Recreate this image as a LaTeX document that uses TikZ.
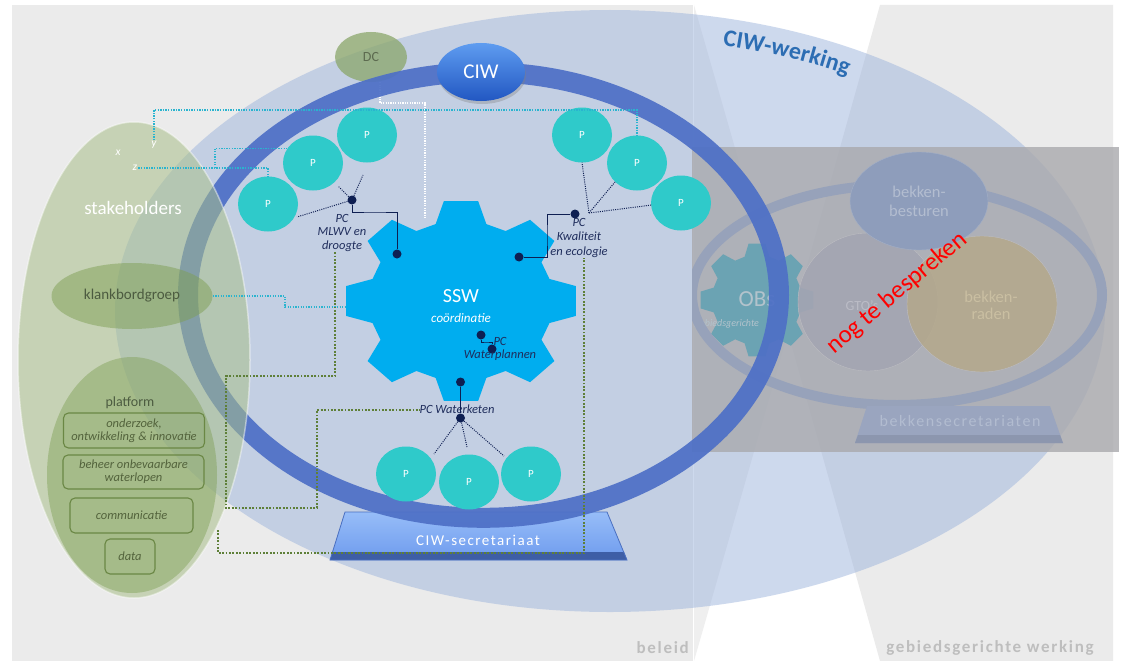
\documentclass[tikz,border=0pt]{standalone}
\usepackage{fontspec}
\setmainfont{Carlito}
\newfontfamily\spacedfont[LetterSpace=10]{Carlito}
\usetikzlibrary{shapes.geometric,shadows,decorations.text}

\newcommand{\setfs}[1]{\fontsize{#1}{#1}\selectfont}

% panels and outer ellipse
\definecolor{panelgrey}{HTML}{EBEBEB}
\definecolor{panellight}{HTML}{EFEFEF}
\definecolor{labelgrey}{HTML}{BEBEBE}
\definecolor{werkblue}{HTML}{9DB4DD}
\definecolor{werktext}{HTML}{2C6DB3}
% CIW core
\definecolor{ringblue}{HTML}{4E70C6}
\definecolor{gearblue}{HTML}{00ADEF}
\definecolor{pteal}{HTML}{2FCACA}
\definecolor{navy}{HTML}{0E1F52}
\definecolor{pcnavy}{HTML}{1F2D5C}
\definecolor{ciwtop}{HTML}{5E9CF0}
\definecolor{ciwbot}{HTML}{2257C2}
\definecolor{secTop}{HTML}{97BDF8}
\definecolor{secBot}{HTML}{6E9BEE}
\definecolor{secBase}{HTML}{3E5EA6}
\definecolor{secEdge}{HTML}{4A6FC0}
% connectors
\definecolor{cyanln}{HTML}{2AB4CF}
\definecolor{greenln}{HTML}{5E7F38}
% stakeholders
\definecolor{stakegreen}{HTML}{A8BF8A}
\definecolor{platgreen}{HTML}{7F9F55}
\definecolor{boxline}{HTML}{6A8744}
\definecolor{boxtext}{HTML}{53633C}
\definecolor{kbtext}{HTML}{4C5B40}
\definecolor{dcgreen}{HTML}{8AA66A}
\definecolor{dctext}{HTML}{5D6B50}
% greyed-out area-based part
\definecolor{boxgrey}{HTML}{A9A9AD}
\definecolor{gbring}{HTML}{97A2BA}
\definecolor{gbbest}{HTML}{8E9DBB}
\definecolor{gbbestedge}{HTML}{A3AFC6}
\definecolor{gbbesttext}{HTML}{B3BDD0}
\definecolor{gbgto}{HTML}{A4A5B2}
\definecolor{gbgtotext}{HTML}{BBBCC6}
\definecolor{gbedge}{HTML}{BDBDC2}
\definecolor{gbraden}{HTML}{B4A88B}
\definecolor{gbradentext}{HTML}{CABFA2}
\definecolor{gbgear}{HTML}{6BA3B3}
\definecolor{gbgeartext}{HTML}{B3C3CC}
\definecolor{gbsec}{HTML}{9AA5BF}
\definecolor{gbsecbase}{HTML}{8C96AE}
\definecolor{gbsectext}{HTML}{B2BCD0}
\definecolor{todo}{HTML}{FF0000}

\begin{document}
\begin{tikzpicture}[x=1pt, y=-1pt,
  bubble/.style={ellipse, fill=pteal, minimum width=60pt, minimum height=55pt, inner sep=0pt, text=white, font=\setfs{11}},
  hubdot/.style={circle, fill=navy, inner sep=0pt, minimum size=9pt},
  pclabel/.style={font=\fontsize{12.5}{13.8}\selectfont\itshape, text=pcnavy, align=center, inner sep=0pt},
  navyline/.style={draw=navy, line width=1pt},
  navydots/.style={draw=navy, line width=1pt, dash pattern=on 1pt off 1.2pt},
  cyandots/.style={draw=cyanln, line width=1.3pt, dash pattern=on 1.3pt off 1.3pt},
  greendots/.style={draw=greenln, line width=1.8pt, dash pattern=on 1.8pt off 1.6pt},
  whitedots/.style={draw=white, line width=1.2pt, dash pattern=on 1.2pt off 1.2pt},
  platbox/.style={draw=boxline, line width=1.1pt, rounded corners=5pt, inner sep=0pt, align=center, text=boxtext, font=\fontsize{12.5}{13}\selectfont\itshape},
  greenblob/.style={ellipse, fill=platgreen, fill opacity=0.5, text opacity=1, inner sep=0pt},
  greyed/.style={inner sep=0pt, align=center},
  xyz/.style={inner sep=1pt, text=white, font=\setfs{11.5}\itshape},
]
\useasboundingbox (0,0) rectangle (1124,661);
\fill[white] (0,0) rectangle (1124,661);

% ---- the two working fields ----
\fill[panelgrey] (12,5) rectangle (693,661);
\fill[panellight] (694,5) -- (788,333) -- (694,661) -- cycle;
\fill[panelgrey] (880,5) -- (1113,5) -- (1113,661) -- (880,661) -- (788,333) -- cycle;
\node[anchor=east, inner sep=0pt, text=labelgrey, font=\spacedfont\setfs{17}\bfseries] (beleid) at (689,648) {beleid};
\node[inner sep=0pt, text=labelgrey, font=\spacedfont\setfs{17}\bfseries] (gebied) at (990,648) {gebiedsgerichte werking};

% ---- CIW-werking ----
\fill[werkblue, fill opacity=0.5] (610,311) ellipse [x radius=495, y radius=301];
\path[decorate, decoration={text along path, text align=left,
      text={|\setfs{24}\bfseries\color{werktext}|CIW-werking}}]
  (610,311) ++(-76:466 and 274) arc[start angle=-76, end angle=-38, x radius=466, y radius=274];

% ---- area-based part, greyed out ----
\fill[boxgrey, fill opacity=0.8] (692,147) rectangle (1119,452);
\begin{scope}
  \clip (692,147) rectangle (1119,452);
  \begin{scope}[shift={(757,300)}]
    \fill[gbgear] (-16:45) \foreach \t in {0,45,...,315} { -- (\t-16:45) -- (\t-8.5:57) -- (\t+8.5:57) -- (\t+16:45) } -- cycle;
  \end{scope}
  \node[greyed, text=gbgeartext, font=\setfs{23}] (obs) at (757,299) {OBs};
  \node[greyed, text=gbgeartext, font=\setfs{10}\itshape] (obsnote) at (727,324) {gebiedsgerichte};
  \draw[gbring, line width=10pt] (897,295) ellipse [x radius=205, y radius=110];
  \node[ellipse, fill=gbgto, fill opacity=0.9, draw=gbedge, minimum width=140pt, minimum height=138pt] (gto) at (868,302) {};
  \node[ellipse, fill=gbraden, fill opacity=0.85, draw=gbedge, minimum width=150pt, minimum height=136pt] (raden) at (982,304) {};
  \node[greyed, text=gbgtotext, font=\setfs{14}] (gtotext) at (862,306) {GTO's};
  \node[greyed, text=gbradentext, font=\fontsize{16.5}{17}\selectfont] (radentext) at (991,305) {bekken-\\raden};
  \node[ellipse, fill=gbbest, draw=gbbestedge, minimum width=138pt, minimum height=98pt, inner sep=0pt, align=center,
        text=gbbesttext, font=\fontsize{16.5}{19}\selectfont] (besturen) at (919,201) {bekken-\\besturen};
  \fill[gbsec] (867,406) -- (1050,406) -- (1063,443) -- (855,443) -- cycle;
  \fill[gbsecbase] (858,435) -- (1060,435) -- (1063,443) -- (855,443) -- cycle;
  \node[greyed, text=gbsectext, font=\spacedfont\setfs{16}] (bsec) at (960,421) {bekkensecretariaten};
\end{scope}

% ---- CIW-secretariaat base ----
\shade[top color=secTop, bottom color=secBot] (345,512) -- (607,512) -- (627,560) -- (330,560) -- cycle;
\fill[secBase] (333,552) -- (624,552) -- (627,560) -- (330,560) -- cycle;
\draw[secEdge, line width=0.8pt] (345,512) -- (607,512) -- (627,560) -- (330,560) -- cycle;

% ---- DC to SSW (runs under the ring) ----
\node[ellipse, fill=dcgreen, fill opacity=0.75, text opacity=1, minimum width=72pt, minimum height=50pt,
      text=dctext, font=\setfs{14}] (dc) at (371,57) {DC};
\coordinate (wdA) at (380,103);
\coordinate (wdB) at (425,218);
\draw[whitedots] (dc.south -| wdA) -- (wdA) -| (wdB);

% ---- CIW ring ----
\draw[ringblue, line width=20pt, draw opacity=0.93] (483.5,295) ellipse [x radius=295.5, y radius=222.8];
\node[ellipse, minimum width=88pt, minimum height=58pt, top color=ciwtop, bottom color=ciwbot,
      drop shadow={opacity=0.35, shadow xshift=1pt, shadow yshift=-3pt},
      text=white, font=\setfs{21}] (ciw) at (481,72) {CIW};
\node[inner sep=0pt, text=white, font=\spacedfont\setfs{15}] (sec) at (478,540) {CIW-secretariaat};

% ---- SSW gear ----
\begin{scope}[shift={(461,301)}, xscale=1.15]
  \fill[gearblue] (-16:80) \foreach \t in {0,45,...,315} { -- (\t-16:80) -- (\t-8.5:101) -- (\t+8.5:101) -- (\t+16:80) } -- cycle;
\end{scope}
\node[inner sep=0pt, text=white, font=\setfs{20}] (ssw) at (461,296) {SSW};
\node[inner sep=0pt, text=white, font=\setfs{13}\itshape] (coord) at (461,318) {coördinatie};
\coordinate (gearW) at (347,307);

% ---- stakeholders ----
\fill[stakegreen, fill opacity=0.55] (134,360) ellipse [x radius=116, y radius=238];
\draw[white, draw opacity=0.45, line width=1.5pt] (134,360) ellipse [x radius=116, y radius=238];
\node[inner sep=0pt, text=white, font=\setfs{19}] (stake) at (133,208) {stakeholders};
\node[xyz] (xlab) at (118,153) {x};
\node[xyz] (ylab) at (154,145) {y};
\node[xyz] (zlab) at (135,168) {z};
\node[greenblob, minimum width=161pt, minimum height=66pt, text=kbtext, font=\setfs{15}] (kbg) at (132,296) {klankbordgroep};
\fill[platgreen, fill opacity=0.45] (132,475) ellipse [x radius=85, y radius=118];
\node[inner sep=0pt, text=kbtext, font=\setfs{14}] (platform) at (130,403) {platform};
\node[platbox, minimum width=141pt, minimum height=35pt] (ondz) at (134,430.5) {onderzoek,\\ontwikkeling \& innovatie};
\node[platbox, minimum width=141pt, minimum height=34pt] (beheer) at (133.5,472) {beheer onbevaarbare\\waterlopen};
\node[platbox, minimum width=123pt, minimum height=35pt] (comm) at (131.5,515.5) {communicatie};
\node[platbox, minimum width=50pt, minimum height=35pt] (data) at (130,556.5) {data};

% ---- PC hubs and labels ----
\node[hubdot] (mh) at (352,200) {};
\node[hubdot] (md) at (397,254) {};
\node[hubdot] (kh) at (575,214) {};
\node[hubdot] (kd) at (519,257) {};
\node[hubdot] (wph) at (481,335) {};
\node[hubdot] (wpd) at (492,349) {};
\node[hubdot] (wkh) at (460.5,382) {};
\node[hubdot] (wkd) at (460.5,418) {};
\node[pclabel] (mlwvlab) at (342,233) {PC\\MLWV en\\droogte};
\node[pclabel, font=\fontsize{12.5}{14.5}\selectfont\itshape] (kwallab) at (579,238) {PC\\Kwaliteit\\en ecologie};
\node[pclabel] (wplab) at (500,349) {PC\\Waterplannen};
\node[pclabel] (wklab) at (457,409) {PC Waterketen};

% ---- P bubbles ----
\node[bubble] (p1) at (367,135) {P};
\node[bubble] (p2) at (313,163) {P};
\node[bubble] (p3) at (268,204) {P};
\node[bubble] (p4) at (582,135) {P};
\node[bubble] (p5) at (637,163) {P};
\node[bubble] (p6) at (681,203) {P};
\node[bubble] (p7) at (406,474) {P};
\node[bubble] (p8) at (469,482) {P};
\node[bubble] (p9) at (531,474) {P};

% ---- links between commission and gear ----
\coordinate (mb) at (375,212);
\coordinate (kb) at (547,235);
\coordinate (wpb) at (486,342);
\draw[navyline] (mh) |- (mb) -| (md);
\draw[navyline] (kh) -| (kb) |- (kd);
\draw[navyline] (wph) |- (wpb) -| (wpd);
\draw[navyline] (wkh) -- (wkd);

% ---- links between commission and projects ----
\coordinate (m1e) at (363,175);
\coordinate (m2e) at (338,186);
\coordinate (m3e) at (297,217);
\draw[navydots] (mh) -- (m1e);
\draw[navydots] (mh) -- (m2e);
\draw[navydots] (mh) -- (m3e);
\coordinate (khub) at (589,213);
\coordinate (k2e) at (615,182);
\coordinate (k3e) at (652,205);
\draw[navydots] (khub) -- (p4.south);
\draw[navydots] (khub) -- (k2e);
\draw[navydots] (khub) -- (k3e);
\coordinate (w1e) at (434,454);
\coordinate (w2e) at (467,447);
\coordinate (w3e) at (504,456);
\draw[navydots] (wkd) -- (w1e);
\draw[navydots] (wkd) -- (w2e);
\draw[navydots] (wkd) -- (w3e);

% ---- stakeholder links ----
\coordinate (cy1) at (400,110);
\coordinate (cz) at (215,168);
\coordinate (kb1) at (285,296);
\draw[cyandots] (ylab.north) |- (cy1) -| (p5.north);
\draw[cyandots] (zlab.east) -| (p3.north);
\draw[cyandots] (cz) |- (p2.150);
\draw[cyandots] (kbg.east) -- (kb1) |- (gearW);

% ---- platform links ----
\coordinate (g1a) at (335,376);
\coordinate (g1b) at (226,508);
\coordinate (g1c) at (317,410);
\coordinate (g3a) at (218,530);
\coordinate (g3b) at (584,553);
\draw[greendots] (mlwvlab.south -| g1a) -- (g1a) -| (g1b) -| (g1c) -- (g1c -| wklab.west);
\draw[greendots] (g3a) |- (g3b) -- (g3b |- kwallab.south);

% ---- open point ----
\node[inner sep=0pt, text=todo, rotate=40, font=\setfs{25}] (todo) at (897,293) {nog te bespreken};
\end{tikzpicture}
\end{document}
